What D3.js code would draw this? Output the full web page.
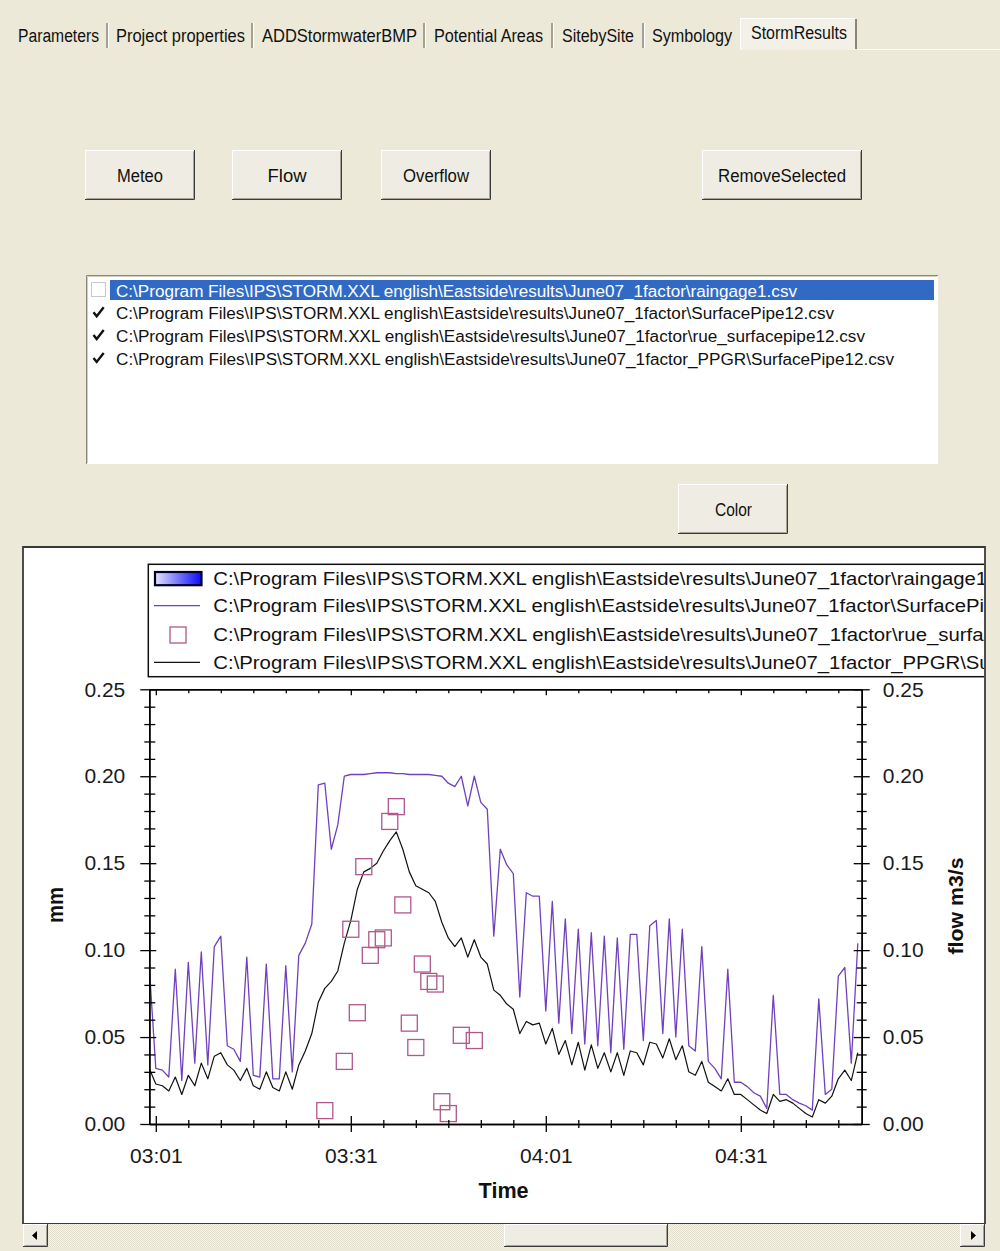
<!DOCTYPE html>
<html>
<head>
<meta charset="utf-8">
<script src="https://cdn.jsdelivr.net/npm/d3@7"></script>
<style>
body { margin: 0; background: #ECE9D8; }
svg { display: block; font-family: "Liberation Sans", Arial, sans-serif; }
</style>
</head>
<body>
<script>
// ---- data ----
var tabLabels = ["Parameters", "Project properties", "ADDStormwaterBMP", "Potential Areas", "SitebySite", "Symbology", "StormResults"];
var buttonLabels = ["Meteo", "Flow", "Overflow", "RemoveSelected"];
var fileNames = [
    "C:\\Program Files\\IPS\\STORM.XXL english\\Eastside\\results\\June07_1factor\\raingage1.csv",
    "C:\\Program Files\\IPS\\STORM.XXL english\\Eastside\\results\\June07_1factor\\SurfacePipe12.csv",
    "C:\\Program Files\\IPS\\STORM.XXL english\\Eastside\\results\\June07_1factor\\rue_surfacepipe12.csv",
    "C:\\Program Files\\IPS\\STORM.XXL english\\Eastside\\results\\June07_1factor_PPGR\\SurfacePipe12.csv"
];
var fileChecked = [false, true, true, true];

// minutes after 03:00, one value per minute
var minutes = d3.range(0, 110);
var flowJune07 = [
    0.090, 0.032, 0.031, 0.027, 0.089, 0.025, 0.093, 0.035, 0.099, 0.034,
    0.102, 0.108, 0.045, 0.043, 0.036, 0.096, 0.028, 0.027, 0.092, 0.026,
    0.026, 0.091, 0.030, 0.097, 0.104, 0.115, 0.195, 0.196, 0.158, 0.172,
    0.200, 0.201, 0.201, 0.201, 0.2015, 0.202, 0.202, 0.202, 0.2015, 0.2015,
    0.201, 0.201, 0.201, 0.201, 0.2005, 0.200, 0.196, 0.194, 0.200, 0.183,
    0.200, 0.185, 0.181, 0.108, 0.158, 0.149, 0.144, 0.073, 0.133, 0.131,
    0.131, 0.065, 0.128, 0.058, 0.118, 0.052, 0.112, 0.046, 0.110, 0.045,
    0.108, 0.041, 0.107, 0.043, 0.109, 0.109, 0.048, 0.114, 0.117, 0.052,
    0.118, 0.050, 0.112, 0.045, 0.042, 0.102, 0.036, 0.032, 0.026, 0.089,
    0.024, 0.024, 0.0215, 0.018, 0.016, 0.009, 0.074, 0.017, 0.017, 0.014,
    0.012, 0.0105, 0.008, 0.072, 0.017, 0.020, 0.085, 0.090, 0.035, 0.104
];
var flowPPGR = [
    0.032, 0.023, 0.022, 0.019, 0.027, 0.017, 0.028, 0.022, 0.035, 0.026,
    0.039, 0.041, 0.034, 0.031, 0.025, 0.032, 0.022, 0.020, 0.030, 0.021,
    0.019, 0.030, 0.020, 0.034, 0.042, 0.052, 0.070, 0.078, 0.082, 0.088,
    0.104, 0.117, 0.135, 0.145, 0.147, 0.150, 0.157, 0.163, 0.168, 0.158,
    0.145, 0.137, 0.135, 0.133, 0.128, 0.116, 0.107, 0.102, 0.107, 0.096,
    0.106, 0.096, 0.092, 0.077, 0.074, 0.069, 0.066, 0.052, 0.059, 0.057,
    0.058, 0.046, 0.055, 0.040, 0.048, 0.034, 0.047, 0.031, 0.0455, 0.032,
    0.041, 0.030, 0.041, 0.028, 0.042, 0.041, 0.034, 0.047, 0.046, 0.038,
    0.049, 0.037, 0.045, 0.030, 0.028, 0.036, 0.024, 0.0215, 0.019, 0.026,
    0.017, 0.017, 0.014, 0.011, 0.008, 0.006, 0.017, 0.013, 0.014, 0.012,
    0.009, 0.006, 0.004, 0.014, 0.012, 0.016, 0.026, 0.031, 0.025, 0.041
];
var rueMinutes = [27, 30, 31, 32, 33, 34, 35, 36, 37, 38, 39, 40, 41, 42, 43, 44, 45, 46, 48, 50];
var rueValues = [0.0077, 0.036, 0.112, 0.064, 0.148, 0.097, 0.106, 0.107, 0.174, 0.1825,
                 0.126, 0.058, 0.044, 0.092, 0.082, 0.0805, 0.0128, 0.006, 0.051, 0.048];

var xTickMinutes = [1, 31, 61, 91];
var xTickLabels = ["03:01", "03:31", "04:01", "04:31"];
var yTicks = [0, 0.05, 0.10, 0.15, 0.20, 0.25];

// ---- page ----
var W = 1000, H = 1251;
var face = "#ECE9D8";
var svg = d3.select("body").append("svg").attr("width", W).attr("height", H);
svg.append("rect").attr("width", W).attr("height", H).attr("fill", face);

var defs = svg.append("defs");
var grad = defs.append("linearGradient").attr("id", "rainGrad");
grad.append("stop").attr("offset", "0%").attr("stop-color", "#e4e4fa");
grad.append("stop").attr("offset", "100%").attr("stop-color", "#0a0aff");
var dots = defs.append("pattern").attr("id", "track").attr("width", 2).attr("height", 2)
    .attr("patternUnits", "userSpaceOnUse");
dots.append("rect").attr("width", 2).attr("height", 2).attr("fill", "#f6f5f0");
dots.append("rect").attr("width", 1).attr("height", 1).attr("fill", "#e0ddcc");
dots.append("rect").attr("x", 1).attr("y", 1).attr("width", 1).attr("height", 1).attr("fill", "#e0ddcc");
defs.append("clipPath").attr("id", "panelClip").append("rect")
    .attr("x", 24).attr("y", 548).attr("width", 960).attr("height", 675);

function label(g, x, y, s, size, len, weight) {
    var t = g.append("text").attr("x", x).attr("y", y).attr("font-size", size)
        .attr("fill", "#111").text(s);
    if (len) t.attr("textLength", len).attr("lengthAdjust", "spacingAndGlyphs");
    if (weight) t.attr("font-weight", weight);
    return t;
}

function raised(g, x, y, w, h) {
    g.append("rect").attr("x", x).attr("y", y).attr("width", w).attr("height", h).attr("fill", "#EFEDE3");
    g.append("path").attr("d", "M" + (x + 0.5) + "," + (y + h - 1) + "V" + (y + 0.5) + "H" + (x + w - 1))
        .attr("stroke", "#fff").attr("fill", "none");
    g.append("path").attr("d", "M" + (x + 1.5) + "," + (y + h - 1.5) + "H" + (x + w - 1.5) + "V" + (y + 1.5))
        .attr("stroke", "#a6a394").attr("fill", "none");
    g.append("path").attr("d", "M" + x + "," + (y + h - 0.5) + "H" + (x + w - 0.5) + "V" + y)
        .attr("stroke", "#3c3c3c").attr("fill", "none");
}

// tabs
var tabs = svg.append("g");
var tabTextX = [18, 116, 262, 434, 562, 652, 751];
var tabTextW = [81, 129, 155, 109, 72, 80, 96];
var sepX = [107, 252, 424, 552, 643];
sepX.forEach(function(sx) {
    tabs.append("line").attr("x1", sx).attr("x2", sx).attr("y1", 23).attr("y2", 48)
        .attr("stroke", "#8c897c").attr("stroke-width", 1.5);
    tabs.append("line").attr("x1", sx + 1.5).attr("x2", sx + 1.5).attr("y1", 23).attr("y2", 48)
        .attr("stroke", "#fff");
});
tabs.append("rect").attr("x", 740).attr("y", 18).attr("width", 116).attr("height", 32).attr("fill", "#F2F0E7");
tabs.append("path").attr("d", "M740.5,50V18.5H855").attr("stroke", "#fff").attr("fill", "none");
tabs.append("line").attr("x1", 856).attr("x2", 856).attr("y1", 19).attr("y2", 49)
    .attr("stroke", "#6e6b60").attr("stroke-width", 1.6);
tabs.append("line").attr("x1", 857).attr("x2", 1000).attr("y1", 49.5).attr("y2", 49.5).attr("stroke", "#fff");
tabLabels.forEach(function(s, i) {
    label(tabs, tabTextX[i], i === 6 ? 39 : 42, s, 18, tabTextW[i]);
});

// buttons
var btn = svg.append("g");
var btnX = [85, 232, 381, 702];
var btnW = [110, 110, 110, 160];
var btnTextW = [46, 39, 66, 128];
buttonLabels.forEach(function(s, i) {
    raised(btn, btnX[i], 150, btnW[i], 50);
    label(btn, btnX[i] + btnW[i] / 2 - btnTextW[i] / 2, 181.5, s, 18, btnTextW[i]);
});
raised(btn, 678, 484, 110, 50);
label(btn, 715, 515.5, "Color", 18, 37);

// file list
var list = svg.append("g");
list.append("rect").attr("x", 86).attr("y", 275).attr("width", 852).attr("height", 189).attr("fill", "#fff");
list.append("path").attr("d", "M86.5,464V275.5H938").attr("stroke", "#8a877a").attr("fill", "none");
list.append("path").attr("d", "M87.5,463V276.5H937").attr("stroke", "#cfccc0").attr("fill", "none");
list.append("rect").attr("x", 110).attr("y", 280).attr("width", 824).attr("height", 20).attr("fill", "#316AC5");
var listTextW = [681, 718, 749, 778];
fileNames.forEach(function(s, i) {
    var by = 283 + i * 22.8;
    list.append("rect").attr("x", 91.5).attr("y", by - 0.5).attr("width", 14).attr("height", 14)
        .attr("fill", "#fff").attr("stroke", i === 0 ? "#c8c8c8" : "#fff");
    if (fileChecked[i]) {
        list.append("path")
            .attr("d", "M" + 93.5 + "," + (by + 6.5) + "l3.2,4l7,-9")
            .attr("stroke", "#111").attr("stroke-width", 2.4).attr("fill", "none");
    }
    label(list, 116, 296.5 + i * 22.8, s, 16, listTextW[i]).attr("fill", i === 0 ? "#fff" : "#111");
});

// chart panel
var panel = svg.append("g");
panel.append("rect").attr("x", 23).attr("y", 547).attr("width", 962).attr("height", 677).attr("fill", "#fff");
panel.append("path").attr("d", "M23,1224V547H985V1224").attr("stroke", "#3a3a3a").attr("stroke-width", 1.8).attr("fill", "none");

// scrollbar
var sb = svg.append("g");
sb.append("rect").attr("x", 23).attr("y", 1224).attr("width", 962).attr("height", 23).attr("fill", "url(#track)");
raised(sb, 23, 1224, 25, 23);
raised(sb, 960, 1224, 25, 23);
raised(sb, 504, 1224, 164, 23);
sb.append("path").attr("d", "M32,1235.5l5,-4.5v9z").attr("fill", "#000");
sb.append("path").attr("d", "M976,1235.5l-5,-4.5v9z").attr("fill", "#000");
svg.append("line").attr("x1", 23).attr("x2", 985).attr("y1", 1223.5).attr("y2", 1223.5)
    .attr("stroke", "#3a3a3a").attr("stroke-width", 1.2);

// ---- plot ----
var x = d3.scaleLinear().domain([0, 109.6]).range([149.3, 861.7]);
var y = d3.scaleLinear().domain([0, 0.25]).range([1124, 689.3]);
var minorX = d3.range(1, 109, 5).filter(function(d) { return xTickMinutes.indexOf(d) < 0; });
var minorY = d3.range(1, 25).filter(function(d) { return d % 5 !== 0; }).map(function(d) { return d / 100; });

var plot = svg.append("g").attr("clip-path", "url(#panelClip)");

defs.append("clipPath").attr("id", "plotClip").append("rect")
    .attr("x", x.range()[0]).attr("y", y(0.25)).attr("width", x.range()[1] - x.range()[0]).attr("height", y(0) - y(0.25));

var line = function(vals) {
    return d3.line().x(function(d, i) { return x(minutes[i]); }).y(function(d) { return y(d); })(vals);
};
var marks = plot.append("g").attr("clip-path", "url(#plotClip)");
marks.append("path").attr("d", line(flowJune07)).attr("fill", "none")
    .attr("stroke", "#7040bd").attr("stroke-width", 1.3).attr("stroke-linejoin", "round");
marks.append("path").attr("d", line(flowPPGR)).attr("fill", "none")
    .attr("stroke", "#111").attr("stroke-width", 1.2).attr("stroke-linejoin", "round");
marks.selectAll("rect.rue").data(rueValues).join("rect").attr("class", "rue")
    .attr("x", function(d, i) { return x(rueMinutes[i]) - 8; })
    .attr("y", function(d) { return y(d) - 8; })
    .attr("width", 16).attr("height", 16)
    .attr("fill", "none").attr("stroke", "#b0578c").attr("stroke-width", 1.3);

// axes
function styleAxis(g) {
    g.attr("font-family", "Liberation Sans, Arial, sans-serif").attr("font-size", 21);
    g.selectAll("path.domain").attr("stroke", "#000").attr("stroke-width", 1.5);
    g.selectAll(".tick line").attr("stroke", "#000").attr("stroke-width", 1.3);
    g.selectAll(".tick text").attr("fill", "#1a1a1a");
}
var ax = plot.append("g");
// bottom
ax.append("g").attr("transform", "translate(0," + y(0) + ")")
    .call(d3.axisBottom(x).tickValues(minorX).tickFormat("").tickSize(4).tickSizeOuter(0))
    .call(styleAxis).selectAll(".tick line").attr("y1", -4);
ax.append("g").attr("transform", "translate(0," + y(0) + ")")
    .call(d3.axisBottom(x).tickValues(xTickMinutes).tickFormat(function(d, i) { return xTickLabels[i]; })
        .tickSize(8).tickSizeOuter(0).tickPadding(16))
    .call(styleAxis).selectAll(".tick line").attr("y1", -8);
// top
ax.append("g").attr("transform", "translate(0," + y(0.25) + ")")
    .call(d3.axisBottom(x).tickValues(minorX).tickFormat("").tickSize(4).tickSizeOuter(0))
    .call(styleAxis);
ax.append("g").attr("transform", "translate(0," + y(0.25) + ")")
    .call(d3.axisBottom(x).tickValues(xTickMinutes).tickFormat("").tickSize(6).tickSizeOuter(0))
    .call(styleAxis);
// left
ax.append("g").attr("transform", "translate(" + x(0) + ",0)")
    .call(d3.axisLeft(y).tickValues(minorY).tickFormat("").tickSize(5).tickSizeOuter(0))
    .call(styleAxis).selectAll(".tick line").attr("x1", 6);
ax.append("g").attr("transform", "translate(" + x(0) + ",0)")
    .call(d3.axisLeft(y).tickValues(yTicks).tickFormat(d3.format(".2f")).tickSize(9).tickSizeOuter(0).tickPadding(15))
    .call(styleAxis).selectAll(".tick line").attr("x1", 7);
// right
ax.append("g").attr("transform", "translate(" + x(109.6) + ",0)")
    .call(d3.axisRight(y).tickValues(minorY).tickFormat("").tickSize(5).tickSizeOuter(0))
    .call(styleAxis).selectAll(".tick line").attr("x1", -5);
ax.append("g").attr("transform", "translate(" + x(109.6) + ",0)")
    .call(d3.axisRight(y).tickValues(yTicks).tickFormat(d3.format(".2f")).tickSize(8).tickSizeOuter(0).tickPadding(13))
    .call(styleAxis).selectAll(".tick line").attr("x1", -8);

label(plot, 478.6, 1198.3, "Time", 22, 50, "bold");
label(plot, 0, 0, "mm", 22, 36, "bold").attr("transform", "translate(63,923) rotate(-90)");
label(plot, 0, 0, "flow m3/s", 21, 97, "bold").attr("transform", "translate(962.5,954.5) rotate(-90)");

// legend (its right part runs past the panel edge, as in the original)
var leg = plot.append("g");
leg.append("rect").attr("x", 148.3).attr("y", 564.3).attr("width", 900).attr("height", 112.4)
    .attr("fill", "#fff").attr("stroke", "#111").attr("stroke-width", 1.5);
var legY = [578.3, 605.7, 635, 662.3];
var legTextW = [810, 852, 889, 922];
leg.append("rect").attr("x", 155).attr("y", 572).attr("width", 46.5).attr("height", 13.2)
    .attr("fill", "url(#rainGrad)").attr("stroke", "#00002a").attr("stroke-width", 2.2);
leg.append("line").attr("x1", 154).attr("x2", 200).attr("y1", legY[1]).attr("y2", legY[1])
    .attr("stroke", "#7040bd").attr("stroke-width", 1.3);
leg.append("rect").attr("x", 170).attr("y", legY[2] - 8).attr("width", 16).attr("height", 16)
    .attr("fill", "none").attr("stroke", "#b0578c").attr("stroke-width", 1.3);
leg.append("line").attr("x1", 154).attr("x2", 200).attr("y1", legY[3]).attr("y2", legY[3])
    .attr("stroke", "#111").attr("stroke-width", 1.2);
fileNames.forEach(function(s, i) {
    label(leg, 213.3, legY[i] + 6.3, s, 17.5, legTextW[i]);
});
</script>
</body>
</html>
